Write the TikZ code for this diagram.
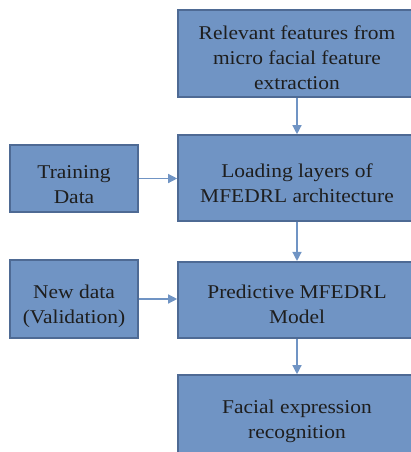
\documentclass[tikz,border=0pt]{standalone}
\usepackage{fontspec}
\setmainfont{Liberation Serif}
\newfontfamily\tnr[FakeStretch=1.1]{Liberation Serif}
\usetikzlibrary{arrows.meta}
\definecolor{boxfill}{HTML}{7094C4}
\definecolor{boxline}{HTML}{4E6A94}
\definecolor{arrowcol}{HTML}{7094C4}
\definecolor{txt}{HTML}{1E1E1E}
\tikzset{
  blk/.style={draw=boxline, line width=1.6pt, fill=boxfill, inner sep=0pt},
  lbl/.style={text=txt, align=center, inner sep=0pt,
    font=\tnr\fontsize{19.5}{25}\selectfont},
  conn/.style={draw=arrowcol, line width=1.3pt,
    -{Triangle[length=9pt,width=9pt]}}
}
\begin{document}
\begin{tikzpicture}[x=1pt,y=-1pt]
\useasboundingbox (0,0) rectangle (411,452);
\clip (0,0) rectangle (411,452);
% boxes
\node[blk, minimum width=238pt, minimum height=87.5pt] (feat) at (297,53.5) {};
\node[blk, minimum width=238pt, minimum height=86pt] (load) at (297,178) {};
\node[blk, minimum width=238pt, minimum height=76.5pt] (pred) at (297,300) {};
\node[blk, minimum width=238pt, minimum height=89pt] (rec) at (297,419.5) {};
\node[blk, minimum width=128pt, minimum height=67pt] (train) at (74,178.5) {};
\node[blk, minimum width=128pt, minimum height=78pt] (new) at (74,299) {};
% texts
\node[lbl] (featT) at (297,57.5) {Relevant features from\\micro facial feature\\extraction};
\node[lbl] (loadT) at (297,183.5) {Loading layers of\\MFEDRL architecture};
\node[lbl] (predT) at (297,304.5) {Predictive MFEDRL\\Model};
\node[lbl] (recT) at (297,421.5) {Facial expression\\recognition};
\node[lbl] (trainT) at (74,185) {Training\\Data};
\node[lbl] (newT) at (74,306.5) {New data\\(Validation)};
% connectors
\draw[conn] (feat.south) -- (load.north);
\draw[conn] (load.south) -- (pred.north);
\draw[conn] (pred.south) -- (rec.north);
\draw[conn] (train.east) -- (train.east -| load.west);
\draw[conn] (new.east) -- (new.east -| pred.west);
\end{tikzpicture}
\end{document}
